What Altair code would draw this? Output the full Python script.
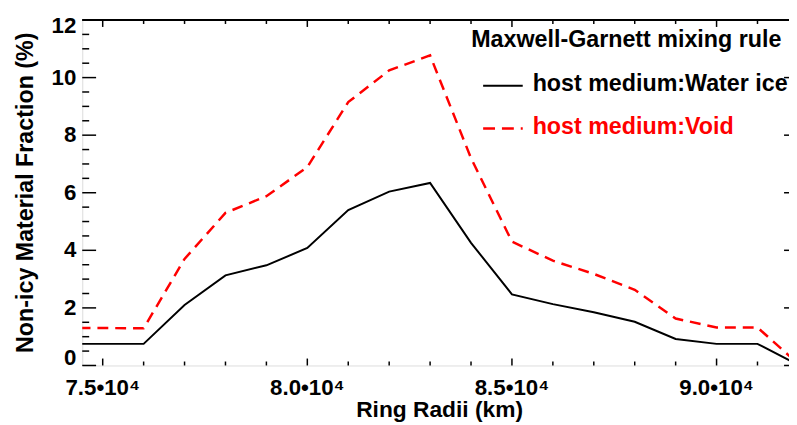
import altair as alt
import pandas as pd

# ---------------- data ----------------
radii = [74000, 75000, 76000, 77000, 78000, 79000, 80000, 81000, 82000,
         83000, 84000, 85000, 86000, 87000, 88000, 89000, 90000, 91000, 92000]
water_ice = [0.75, 0.75, 0.75, 2.10, 3.13, 3.48, 4.08, 5.40, 6.04,
             6.34, 4.26, 2.47, 2.13, 1.85, 1.52, 0.92, 0.75, 0.75, 0.02]
void = [1.30, 1.30, 1.29, 3.70, 5.30, 5.88, 6.89, 9.15, 10.25,
        10.77, 7.20, 4.30, 3.64, 3.18, 2.63, 1.63, 1.32, 1.32, 0.05]
series_names = ["host medium:Water ice", "host medium:Void"]
legend_title = "Maxwell-Garnett mixing rule"
x_title = "Ring Radii (km)"
y_title = "Non-icy Material Fraction (%)"

x_domain = [74500, 91770]
y_domain = [0, 12]
x_major = [75000, 80000, 85000, 90000]
x_minor = [76000, 77000, 78000, 79000, 81000, 82000, 83000, 84000,
           86000, 87000, 88000, 89000, 91000]
y_major = [0, 2, 4, 6, 8, 10, 12]
y_minor = [0.5, 1, 1.5, 2.5, 3, 3.5, 4.5, 5, 5.5, 6.5, 7, 7.5, 8.5, 9, 9.5,
           10.5, 11, 11.5]

# ---------------- layout ----------------
W, H = 714, 349
W_FULL = 723          # the original right frame lies just outside the window
FONT = "Liberation Sans"
TICK_FS = 22.5

df = pd.DataFrame({
    "r": radii + radii,
    "f": water_ice + void,
    "s": [series_names[0]] * len(radii) + [series_names[1]] * len(radii),
})

xs = alt.Scale(domain=x_domain, nice=False, zero=False)
ys = alt.Scale(domain=y_domain, nice=False, zero=False)

x_axis = alt.Axis(values=x_major, ticks=False, labels=False, grid=False, title=None,
                  domainColor="black", domainWidth=2)
y_axis = alt.Axis(values=y_major, ticks=False, labels=False, grid=False, title=None,
                  domainColor="black", domainWidth=2)

ice_line = alt.Chart(df).transform_filter(alt.datum.s == series_names[0]).mark_line(
    color="black", strokeWidth=2, clip=True
).encode(
    x=alt.X("r:Q", scale=xs, axis=x_axis),
    y=alt.Y("f:Q", scale=ys, axis=y_axis),
)
void_line = alt.Chart(df).transform_filter(alt.datum.s == series_names[1]).mark_line(
    color="red", strokeWidth=2.5, strokeDash=[11, 7], clip=True
).encode(
    x=alt.X("r:Q", scale=xs, axis=None),
    y=alt.Y("f:Q", scale=ys, axis=None),
)


def yticks(vals, x0, x1):
    return alt.Chart(pd.DataFrame({"v": vals})).mark_rule(color="black", strokeWidth=1.5).encode(
        y=alt.Y("v:Q", scale=ys, axis=None), x=alt.value(x0), x2=alt.value(x1)
    )


def xticks(vals, y0, y1):
    return alt.Chart(pd.DataFrame({"v": vals})).mark_rule(color="black", strokeWidth=1.5).encode(
        x=alt.X("v:Q", scale=xs, axis=None), y=alt.value(y0), y2=alt.value(y1)
    )


# tick labels, placed through the scales
def ylabels(vals, baseline, dy):
    return alt.Chart(pd.DataFrame({"v": vals})).mark_text(
        align="right", baseline=baseline, dy=dy, fontSize=TICK_FS, fontWeight="bold",
        font=FONT, color="black"
    ).encode(y=alt.Y("v:Q", scale=ys, axis=None), x=alt.value(-6), text=alt.Text("v:Q", format="d"))


y_lab_mid = ylabels(y_major[1:-1], "middle", 0)
y_lab_low = ylabels(y_major[:1], "alphabetic", 0)
y_lab_top = ylabels(y_major[-1:], "alphabetic", 13.5)

x_lab = alt.Chart(pd.DataFrame({"v": x_major})).transform_calculate(
    lab="format(datum.v / 10000, '.1f') + '•10⁴'"
).mark_text(
    align="center", baseline="alphabetic", fontSize=TICK_FS, fontWeight="bold",
    font=FONT, color="black"
).encode(x=alt.X("v:Q", scale=xs, axis=None), y=alt.value(H + 30), text="lab:N")

one = alt.Data(values=[{}])


def free_text(txt, x, y, color, size, angle=0, align="left"):
    return alt.Chart(one).mark_text(
        align=align, baseline="alphabetic", fontSize=size, fontWeight="bold",
        font=FONT, color=color, angle=angle
    ).encode(x=alt.value(x), y=alt.value(y), text=alt.value(txt))


x_title_m = free_text(x_title, 361, H + 52.5, "black", 23, align="center")
y_title_m = free_text(y_title, -50, H / 2, "black", 23.5, angle=270, align="center")

top_frame = alt.Chart(one).mark_rule(color="black", strokeWidth=2).encode(
    x=alt.value(0), x2=alt.value(W_FULL), y=alt.value(0)
)

leg_title = free_text(legend_title, 393, 27, "black", 23.5)
leg_ice_txt = free_text(series_names[0], 455, 72, "black", 23.5)
leg_void_txt = free_text(series_names[1], 455, 115.5, "red", 23.5)
leg_ice_line = alt.Chart(one).mark_rule(color="black", strokeWidth=2).encode(
    x=alt.value(405), x2=alt.value(445), y=alt.value(66.5)
)
leg_void_line = alt.Chart(one).mark_rule(color="red", strokeWidth=2.5, strokeDash=[12, 7]).encode(
    x=alt.value(405), x2=alt.value(445), y=alt.value(109.5)
)

chart = alt.layer(
    ice_line, void_line,
    yticks(y_major, 0, 14), yticks(y_minor, 0, 7),
    yticks(y_major, W_FULL - 14, W_FULL), yticks(y_minor, W_FULL - 7, W_FULL),
    xticks(x_major, H, H - 7), xticks(x_minor, H, H - 4),
    xticks(x_major, 0, 7), xticks(x_minor, 0, 4),
    top_frame,
    y_lab_mid, y_lab_low, y_lab_top, x_lab, x_title_m, y_title_m,
    leg_title, leg_ice_line, leg_ice_txt, leg_void_line, leg_void_txt,
).properties(
    width=W, height=H,
    autosize=alt.AutoSizeParams(type="none"),
    padding={"left": 75, "top": 10, "right": 0, "bottom": 58},
).configure_view(stroke=None).configure(font=FONT, background="white")

chart.save("out.html", embed_options={"renderer": "svg", "actions": False})
